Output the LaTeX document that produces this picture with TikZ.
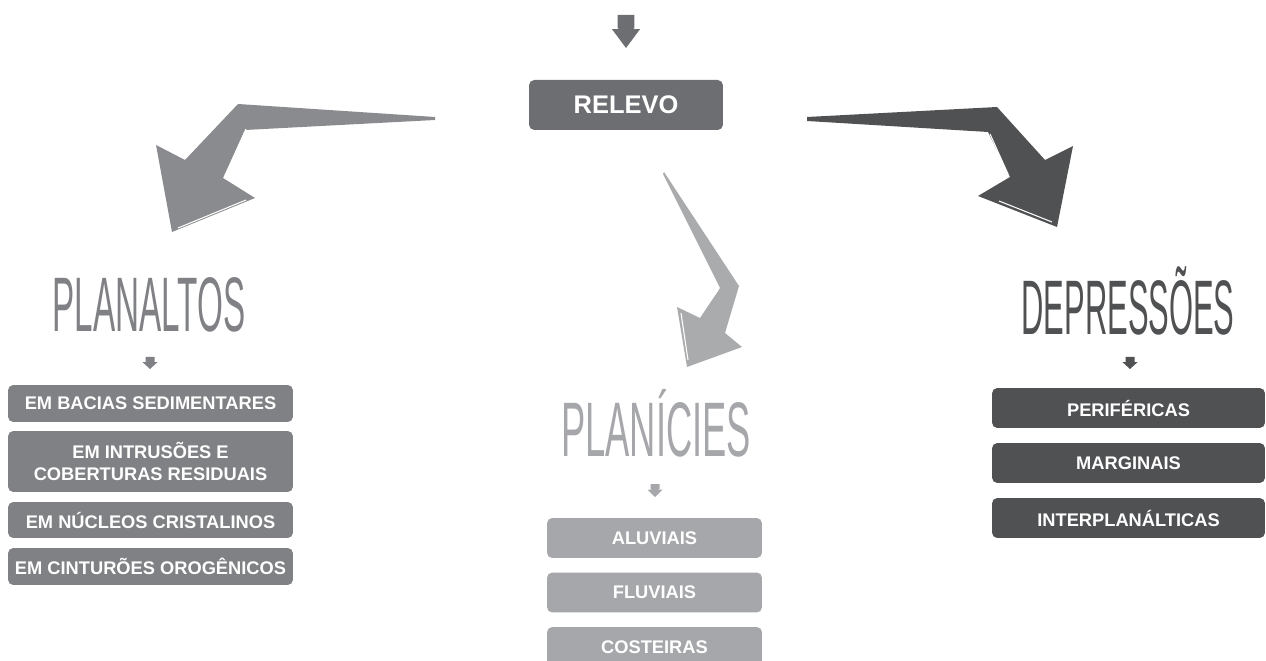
\documentclass[tikz,border=0pt]{standalone}
\usepackage{fontspec}
\setmainfont{Liberation Sans}
\newfontfamily\titulofont{Liberation Sans}
\usepackage{tikz}

\definecolor{cinzaRelevo}{HTML}{6D6E71}
\definecolor{cinzaPlanalto}{HTML}{808184}
\definecolor{cinzaPlanicie}{HTML}{A6A7AA}
\definecolor{cinzaDepressao}{HTML}{505153}

\tikzset{
  caixa/.style={fill=#1, rounded corners=3pt, text=white, inner sep=0pt,
    align=center, font=\bfseries\fontsize{10.4}{13}\selectfont},
  titulo/.style={text=#1, inner sep=0pt, anchor=base,
    font=\titulofont\fontsize{44}{44}\selectfont},
  brilho/.style={draw=white, line width=0.6pt},
  seta/.pic={
    \fill (-0.3,0) -- (0.3,0) -- (0.3,0.4) -- (0,0.55) -- (-0.3,0.4) -- cycle;
    \fill (-0.5,0.43) -- (0.5,0.43) -- (0,1) -- cycle;
  }
}

\begin{document}
\begin{tikzpicture}[x=0.02cm,y=-0.02cm]
  \useasboundingbox (0,0) rectangle (1266,661);
  \clip (0,0) rectangle (1266,661);
  % Relevo
  \pic[color=cinzaRelevo, xscale=28, yscale=33] at (626,15) {seta};
  \node[caixa=cinzaRelevo, minimum width=3.88cm, minimum height=1cm,
    font=\bfseries\fontsize{14.5}{16}\selectfont] (relevo) at (626,105) {RELEVO};
  % Setas grandes
  \fill[cinzaPlanalto!92!white] (435,117) -- (238,104) -- (185,160) -- (156,145)
    -- (172,232) -- (255,198) -- (223,178) -- (245,130) -- (435,120) -- cycle;
  \draw[brilho] (246,129) -- (225,176);
  \draw[brilho] (178,228) -- (246,200);
  \fill[cinzaPlanicie!96!white] (664,172) -- (739,286) -- (725,333) -- (742,347)
    -- (687,367) -- (677,307) -- (700,318) -- (720,288) -- (663,174) -- cycle;
  \draw[brilho] (718,290) -- (700,315);
  \draw[brilho] (681,313) -- (688,360);
  \fill[cinzaDepressao] (807,117) -- (997,107) -- (1045,160) -- (1073,146)
    -- (1057,227) -- (978,196) -- (1010,177) -- (988,132) -- (807,121) -- cycle;
  \draw[brilho] (990,134) -- (1008,174);
  \draw[brilho] (999,201) -- (1052,222);
  % Planaltos
  \node[titulo=cinzaPlanalto] (planaltos) at (149,332) {\scalebox{0.43}[1]{PLANALTOS}};
  \pic[color=cinzaPlanalto, xscale=15, yscale=12] at (150,357) {seta};
  \foreach \y/\h/\txt [count=\i] in {403.5/0.74/EM BACIAS SEDIMENTARES,
      461.5/1.22/{EM INTRUSÕES E\\COBERTURAS RESIDUAIS},
      520/0.72/EM NÚCLEOS CRISTALINOS, 566.5/0.74/EM CINTURÕES OROGÊNICOS}
    \node[caixa=cinzaPlanalto, minimum width=5.7cm, minimum height=\h cm]
      (planalto\i) at (150.5,\y) {\txt};
  % Planicies
  \node[titulo=cinzaPlanicie] (planicies) at (656,457) {\scalebox{0.47}[1]{PLANÍCIES}};
  \pic[color=cinzaPlanicie, xscale=15, yscale=13] at (655,484) {seta};
  \foreach \y/\txt [count=\i] in {538/ALUVIAIS, 592.5/FLUVIAIS, 647/COSTEIRAS}
    \node[caixa=cinzaPlanicie, minimum width=4.3cm, minimum height=0.8cm]
      (planicie\i) at (654.5,\y) {\txt};
  % Depressoes
  \node[titulo=cinzaDepressao] (depressoes) at (1128,335) {\scalebox{0.40}[1]{DEPRESSÕES}};
  \pic[color=cinzaDepressao, xscale=15, yscale=12] at (1130,357) {seta};
  \foreach \y/\txt [count=\i] in {408/PERIFÉRICAS, 463/MARGINAIS, 518/INTERPLANÁLTICAS}
    \node[caixa=cinzaDepressao, minimum width=5.46cm, minimum height=0.8cm]
      (depressao\i) at (1128.5,\y) {\txt};
\end{tikzpicture}
\end{document}
